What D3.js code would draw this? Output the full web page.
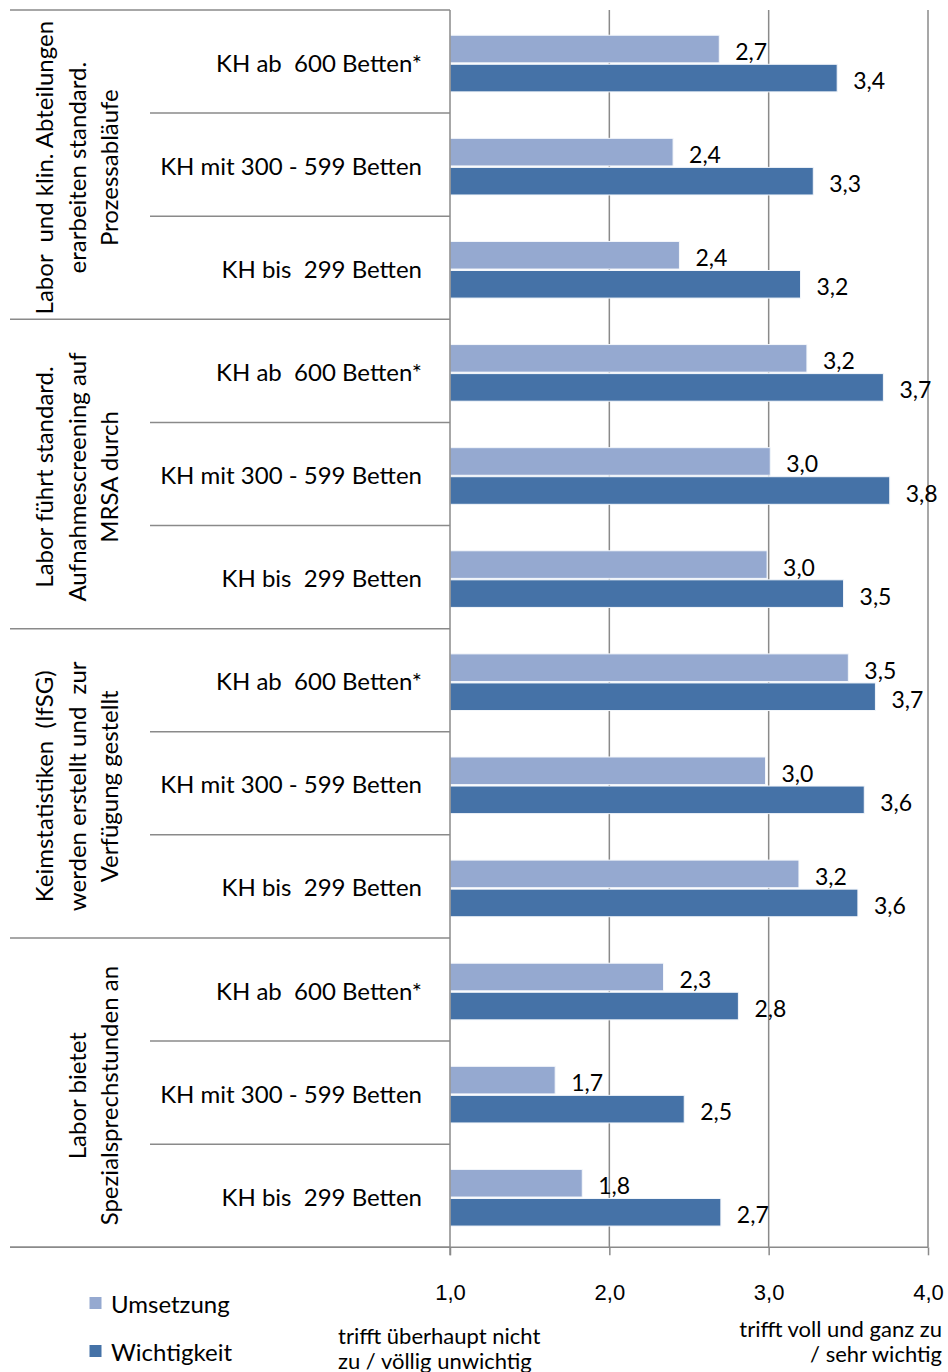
<!DOCTYPE html>
<html>
<head>
<meta charset="utf-8">
<script src="https://cdn.jsdelivr.net/npm/d3@7/dist/d3.min.js"></script>
<style>
  html, body { margin: 0; padding: 0; background: #fff; }
  svg { display: block; font-family: Lato, "Open Sans", sans-serif; }
  text { white-space: pre; fill: #000; }
</style>
</head>
<body>
<svg id="chart" width="948" height="1372"></svg>
<script>
// Statement groups (rotated labels, one entry per line)
const groupLines = [
  ["Labor  und klin. Abteilungen", "erarbeiten standard.", "Prozessabläufe"],
  ["Labor führt standard.", "Aufnahmescreening auf", "MRSA durch"],
  ["Keimstatistiken  (IfSG)", "werden erstellt und  zur", "Verfügung gestellt"],
  ["Labor bietet", "Spezialsprechstunden an"]
];
// Hospital size classes within every group
const categories = ["KH ab  600 Betten*", "KH mit 300 - 599 Betten", "KH bis  299 Betten"];
const seriesNames = ["Umsetzung", "Wichtigkeit"];
// Mean ratings (scale 1 = trifft überhaupt nicht zu … 4 = trifft voll und ganz zu)
const umsetzung = [2.69, 2.40, 2.44, 3.24, 3.01, 2.99, 3.50, 2.98, 3.19, 2.34, 1.66, 1.83];
const wichtigkeit = [3.43, 3.28, 3.20, 3.72, 3.76, 3.47, 3.67, 3.60, 3.56, 2.81, 2.47, 2.70];
const tickValues = [1, 2, 3, 4];
const axisLeftTitle = ["trifft überhaupt nicht", "zu / völlig unwichtig"];
const axisRightTitle = ["trifft voll und ganz zu", "/ sehr wichtig"];

const colors = { Umsetzung: "#95a9d0", Wichtigkeit: "#4572a7" };
const lineColor = "#8a8a8a";

const svg = d3.select("#chart");
const de = d3.formatLocale({ decimal: ",", thousands: ".", grouping: [3], currency: ["", " €"] });
const fmt = de.format(".1f");

// Flatten to one row per group/category
const rows = [];
groupLines.forEach((g, gi) => {
  categories.forEach((c, ci) => {
    const i = gi * categories.length + ci;
    rows.push({ key: gi + "|" + ci, group: gi, cat: c, Umsetzung: umsetzung[i], Wichtigkeit: wichtigkeit[i] });
  });
});

const plotTop = 10, plotBottom = 1247.3;
const x = d3.scaleLinear().domain([1, 4]).range([450, 928]);
const y = d3.scaleBand().domain(rows.map(r => r.key)).range([plotTop, plotBottom]);
const ySeries = d3.scaleBand().domain(seriesNames)
  .range([2, y.bandwidth() + 2]).paddingInner(0.05).paddingOuter(0.8);
const groupY = d3.scaleBand().domain(groupLines.map((_, i) => i)).range([plotTop, plotBottom]);

// Vertical grid lines
svg.append("g").selectAll("line").data(tickValues.slice(1)).join("line")
  .attr("x1", d => x(d)).attr("x2", d => x(d))
  .attr("y1", plotTop).attr("y2", plotBottom)
  .attr("stroke", lineColor).attr("stroke-width", 1.5);

// Separator lines in the category area
const sep = svg.append("g").attr("stroke", lineColor).attr("stroke-width", 1.5);
rows.forEach((r, i) => {
  const yy = y(r.key);
  const isGroupStart = i % categories.length === 0;
  sep.append("line").attr("x1", isGroupStart ? 10 : 150).attr("x2", 450)
    .attr("y1", yy).attr("y2", yy);
});
sep.append("line").attr("x1", 10).attr("x2", 450).attr("y1", plotBottom).attr("y2", plotBottom);

// Bars
const barG = svg.append("g");
rows.forEach(r => {
  seriesNames.forEach(s => {
    barG.append("rect")
      .attr("x", x(1))
      .attr("y", y(r.key) + ySeries(s))
      .attr("width", x(r[s]) - x(1))
      .attr("height", ySeries.bandwidth())
      .attr("fill", colors[s])
      .attr("stroke", "#f4f7fb").attr("stroke-width", 1);
  });
});

// Value labels
const labG = svg.append("g").attr("font-size", 23);
rows.forEach(r => {
  seriesNames.forEach(s => {
    labG.append("text")
      .attr("x", x(r[s]) + 16)
      .attr("y", y(r.key) + ySeries(s) + ySeries.bandwidth() / 2 + 11)
      .text(fmt(r[s]));
  });
});

// Category labels
svg.append("g").attr("font-size", 24).attr("text-anchor", "end")
  .selectAll("text").data(rows).join("text")
  .attr("x", 422)
  .attr("y", d => y(d.key) + y.bandwidth() / 2 + 10)
  .text(d => d.cat);

// Rotated group labels
groupLines.forEach((lines, gi) => {
  const cy = groupY(gi) + groupY.bandwidth() / 2 + 3;
  lines.forEach((ln, li) => {
    const bx = 118 - (lines.length - 1 - li) * 32.5;
    svg.append("text")
      .attr("font-size", 24).attr("text-anchor", "middle")
      .attr("transform", `translate(${bx},${cy}) rotate(-90)`)
      .text(ln);
  });
});

// Value axis at bottom
const axisG = svg.append("g").attr("transform", `translate(0,${plotBottom})`)
  .call(d3.axisBottom(x).tickValues(tickValues).tickSize(8).tickFormat(fmt));
axisG.select(".domain").remove();
axisG.selectAll(".tick line").attr("stroke", lineColor).attr("stroke-width", 1.5);
axisG.selectAll(".tick text").attr("font-size", 22).attr("font-family", null)
  .attr("fill", "#000").attr("y", 0).attr("dy", null).attr("dominant-baseline", null)
  .attr("transform", "translate(0,53)");
axisG.append("line").attr("x1", 10).attr("x2", x(4)).attr("y1", 0).attr("y2", 0)
  .attr("stroke", lineColor).attr("stroke-width", 1.5);

// Category axis line
svg.append("line").attr("x1", x(1)).attr("x2", x(1)).attr("y1", plotTop).attr("y2", plotBottom + 8)
  .attr("stroke", lineColor).attr("stroke-width", 1.5);

// Axis end descriptions
const tl = svg.append("g").attr("font-size", 22);
axisLeftTitle.forEach((t, i) => tl.append("text").attr("x", 338).attr("y", 1344 + i * 24.5).text(t));
axisRightTitle.forEach((t, i) => tl.append("text").attr("x", 942).attr("y", 1337 + i * 24.5)
  .attr("text-anchor", "end").text(t));

// Legend
const leg = svg.append("g").attr("font-size", 24);
seriesNames.forEach((s, i) => {
  const ly = 1297 + i * 48;
  leg.append("rect").attr("x", 89.5).attr("y", ly).attr("width", 12).attr("height", 12).attr("fill", colors[s]);
  leg.append("text").attr("x", 111).attr("y", ly + 16).text(s);
});
</script>
</body>
</html>
